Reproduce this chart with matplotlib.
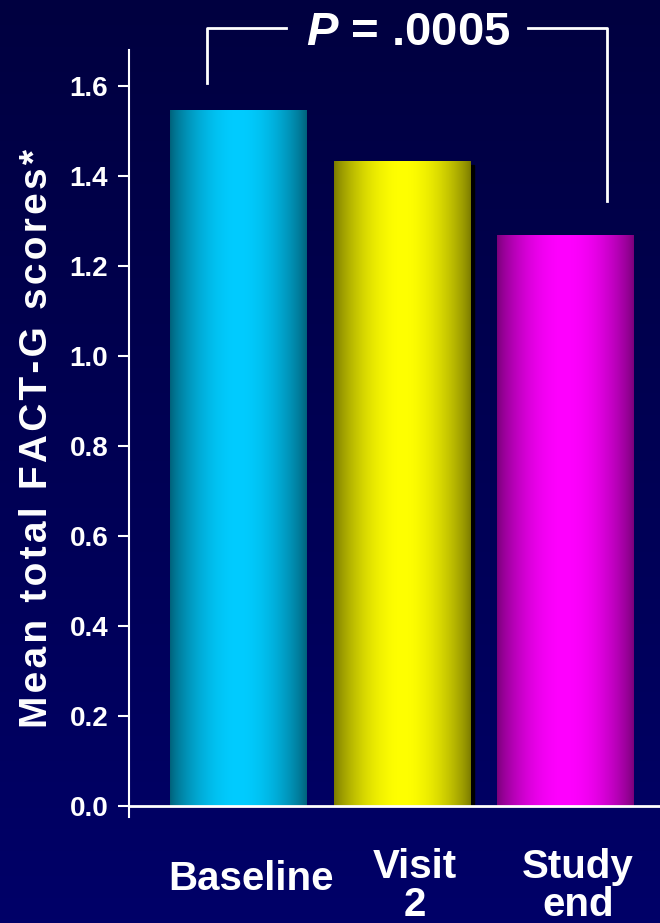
import numpy as np
import matplotlib
matplotlib.use("Agg")
import matplotlib.pyplot as plt
from matplotlib import font_manager
from matplotlib.colors import to_rgb
from matplotlib.transforms import offset_copy

# data
categories = ["Baseline", "Visit\n2", "Study\nend"]
scores = [1.545, 1.433, 1.268]
bar_colors = ["#00ccff", "#ffff00", "#ff00ff"]
yticks = [0.0, 0.2, 0.4, 0.6, 0.8, 1.0, 1.2, 1.4, 1.6]
ylabel = "Mean total FACT-G scores*"
p_text = "$\\mathbfit{P}$ = .0005"

names = {f.name for f in font_manager.fontManager.ttflist}
narrow = "Liberation Sans Narrow" if "Liberation Sans Narrow" in names else "Liberation Sans"
plt.rcParams["font.family"] = ["Liberation Sans", "DejaVu Sans"]
plt.rcParams["mathtext.fontset"] = "custom"
plt.rcParams["mathtext.bfit"] = "Liberation Sans:bold:italic"

fig = plt.figure(figsize=(6.6, 9.23), dpi=100)

# background gradient (dark navy)
bg = fig.add_axes([0, 0, 1, 1], zorder=-10)
top, bot = np.array([0, 0, 0x40]) / 255, np.array([0, 0, 0x68]) / 255
tt = np.linspace(0, 1, 256)[:, None]
bg.imshow((top + (bot - top) * tt).reshape(256, 1, 3), aspect="auto",
          extent=[0, 1, 0, 1])
bg.axis("off")

ax = fig.add_axes([129 / 660, 106 / 923, 531 / 660, 767 / 923])
ax.patch.set_alpha(0)
x = np.arange(len(categories))
width = 0.832

# shaded "cylinder" bars
t = np.linspace(0, 1, 200)
shade = 0.48 + 0.52 * np.sin(np.pi * t) ** 0.8
for i, (v, c) in enumerate(zip(scores, bar_colors)):
    if i == 1:
        # drop shadow
        ax.add_patch(plt.Rectangle((x[i] - width / 2 + 0.03, 0), width, v - 0.009,
                                   color="black", zorder=1))
    rgb = np.array(to_rgb(c))
    img = (shade[:, None] * rgb)[None, :, :]
    ax.imshow(img, aspect="auto", extent=[x[i] - width / 2, x[i] + width / 2, 0, v],
              zorder=2, interpolation="bilinear")

ax.set_xlim(-0.667, 2.581)
ax.set_ylim(-0.025, 1.68)

# axes styling
for s in ["top", "right"]:
    ax.spines[s].set_visible(False)
ax.spines["left"].set_color("white")
ax.spines["left"].set_linewidth(1.5)
ax.spines["bottom"].set_color("white")
ax.spines["bottom"].set_linewidth(2)
ax.spines["bottom"].set_position(("data", 0))
ax.spines["bottom"].set_zorder(3)
ax.set_xticks([])
ax.set_yticks(yticks)
ax.set_yticklabels([f"{v:.1f}" for v in yticks], fontfamily=narrow,
                   fontweight="bold", fontsize=20, color="white")
ax.tick_params(axis="y", colors="white", length=8, width=1.5, pad=7)

# category labels
for i, lab in enumerate(categories):
    dy = -12 if "\n" not in lab else 0
    tr = offset_copy(ax.get_xaxis_transform(), fig=fig, x=13, y=dy, units="dots")
    ax.text(x[i], -0.04, lab, transform=tr, ha="center", va="top", fontsize=29,
            fontweight="bold", color="white", linespacing=1.0)

# letter-spaced y label
fig.text(37 / 660, 1 - 439 / 923, "\u200a".join(ylabel), rotation=90,
         ha="center", va="center", fontsize=28, fontweight="bold", color="white",
         fontfamily=["Liberation Sans", "DejaVu Sans"])

# significance bracket
left_x, right_x = x[0] - 0.19, x[2] + 0.257
y_top = 1.73
mid = (left_x + right_x) / 2
gap = 1.48 / 2
kw = dict(color="white", lw=2, clip_on=False, zorder=4)
ax.plot([left_x, left_x, mid - gap], [scores[0] + 0.062, y_top, y_top], **kw)
ax.plot([mid + gap, right_x, right_x], [y_top, y_top, scores[2] + 0.076], **kw)
ax.text(mid + 0.01, y_top - 0.012, p_text, ha="center", va="center", fontsize=34,
        fontweight="bold", color="white", clip_on=False)

fig.savefig("out.png", dpi=100)
